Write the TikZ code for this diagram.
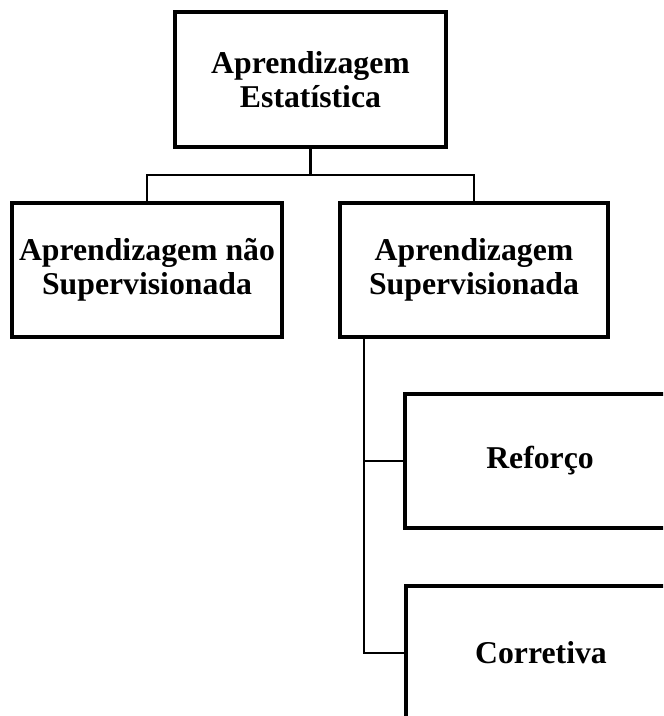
\documentclass[tikz,border=0pt]{standalone}
\usepackage{fontspec}
\setmainfont{Liberation Serif}
\usetikzlibrary{calc}
\begin{document}
\begin{tikzpicture}[x=0.75pt,y=-0.75pt,
  box/.style={draw=black,line width=3pt,fill=white,inner sep=0pt,
    minimum width=202.5pt,minimum height=100.5pt,align=center,
    font=\fontsize{23.8pt}{25.5pt}\selectfont\bfseries},
  link/.style={draw=black,line width=1.6pt}]
  \useasboundingbox (0,0) rectangle (663,716);
  \clip (0,0) rectangle (663,716);

  % boxes
  \node[box,minimum width=203.25pt,minimum height=101.25pt] (top) at (310.5,79.5) {Aprendizagem\\Estatística};
  \node[box] (uns) at (147,270) {Aprendizagem não\\Supervisionada};
  \node[box,minimum width=201pt] (sup) at (474,270) {Aprendizagem\\Supervisionada};
  \node[box] (ref) at (540,461) {Reforço};
  \node[box] (cor) at (541,653) {Corretiva};

  % tree from the root to its two children
  \coordinate (bus) at (0,175);
  \draw[link] (top.south) -- (top.south |- bus);
  \draw[link] (uns.north) -- (uns.north |- bus) -- (sup.north |- bus) -- (sup.north);

  % spine from the supervised box down to its two kinds
  \coordinate (sp) at ([xshift=19.5pt]sup.south west);
  \draw[link] (sp) |- (cor.west);
  \draw[link] (sp |- ref.west) -- (ref.west);
\end{tikzpicture}
\end{document}
